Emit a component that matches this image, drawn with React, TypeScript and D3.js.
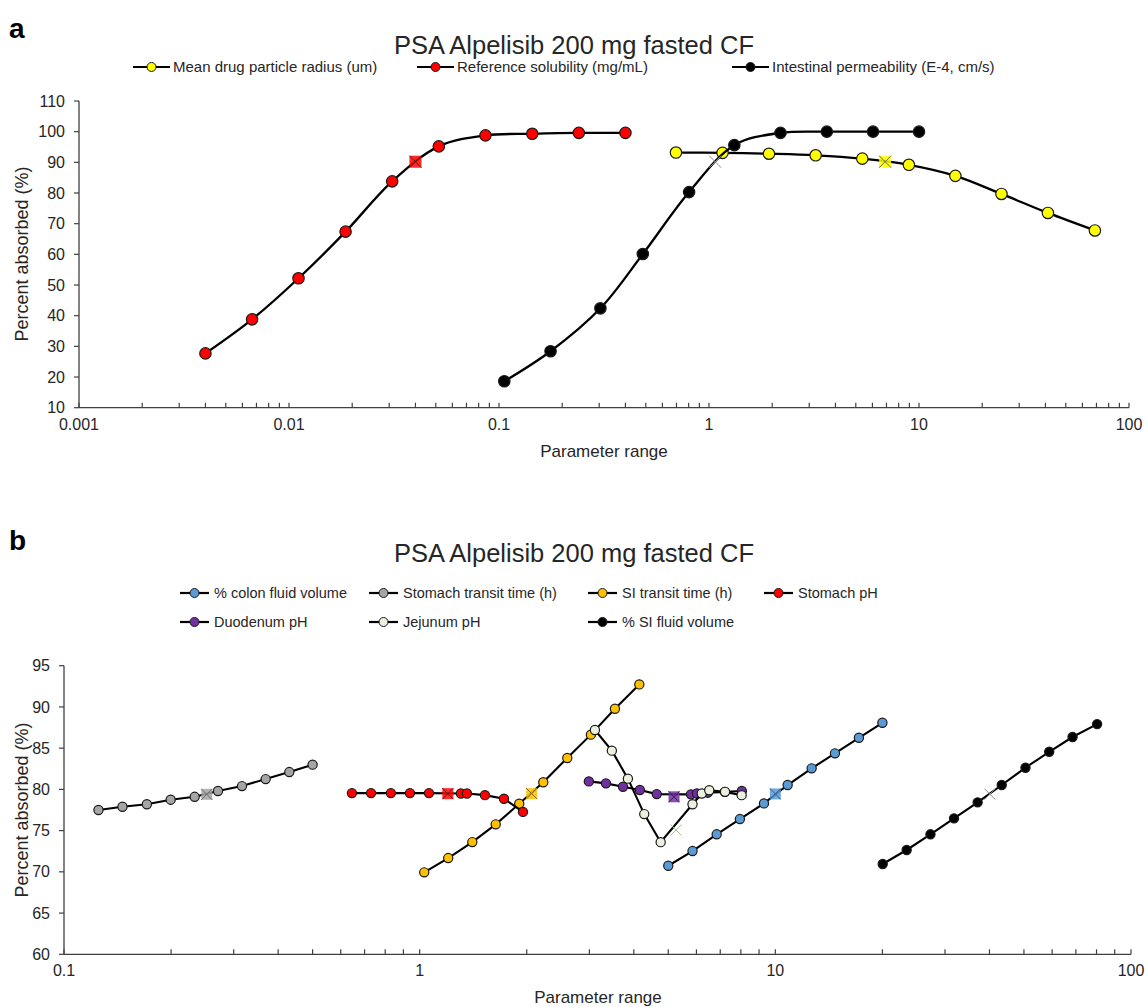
import React from 'react';
import * as d3 from 'd3';

const W = 1146;
const H = 1007;
const FONT = "'Liberation Sans', Arial, Helvetica, sans-serif";

// ---------- Panel a data ----------
const titleText = 'PSA Alpelisib 200 mg fasted CF';
const aXTicks = [0.001, 0.01, 0.1, 1, 10, 100];
const aYTicks = [10, 20, 30, 40, 50, 60, 70, 80, 90, 100, 110];

const radiusName = 'Mean drug particle radius (um)';
const radiusX = [0.696, 1.16, 1.93, 3.22, 5.37, 8.95, 14.9, 24.7, 41.1, 68.8];
const radiusY = [93.2, 93.1, 92.8, 92.3, 91.2, 89.2, 85.6, 79.7, 73.5, 67.8];
const radiusBase = [6.9, 90.2];

const solName = 'Reference solubility (mg/mL)';
const solX = [0.004, 0.00667, 0.0111, 0.0186, 0.031, 0.0517, 0.0862, 0.144, 0.24, 0.4];
const solY = [27.7, 38.8, 52.2, 67.4, 83.8, 95.2, 98.8, 99.3, 99.6, 99.6];
const solBase = [0.04, 90.2];

const permName = 'Intestinal permeability (E-4, cm/s)';
const permX = [0.106, 0.176, 0.304, 0.484, 0.804, 1.32, 2.19, 3.64, 6.04, 10];
const permY = [18.6, 28.4, 42.4, 60.1, 80.3, 95.6, 99.6, 100, 100, 100];
const permBase = [1.07, 90.2];

// ---------- Panel b data ----------
const bXTicks = [0.1, 1, 10, 100];
const bYTicks = [60, 65, 70, 75, 80, 85, 90, 95];

const colonName = '% colon fluid volume';
const colonX = [5, 5.85, 6.84, 7.95, 9.29, 10.83, 12.65, 14.71, 17.18, 20];
const colonY = [70.74, 72.52, 74.55, 76.4, 78.3, 80.53, 82.55, 84.37, 86.26, 88.08];
const colonBase = [10, 79.45];

const stTransName = 'Stomach transit time (h)';
const stTransX = [0.125, 0.146, 0.171, 0.1995, 0.233, 0.271, 0.3165, 0.369, 0.43, 0.5];
const stTransY = [77.5, 77.9, 78.2, 78.75, 79.1, 79.8, 80.4, 81.25, 82.1, 83.0];
const stTransBase = [0.252, 79.4];

const siTransName = 'SI transit time (h)';
const siTransX = [1.03, 1.203, 1.406, 1.636, 1.905, 2.226, 2.6, 3.03, 3.54, 4.145];
const siTransY = [69.94, 71.67, 73.61, 75.76, 78.26, 80.86, 83.81, 86.64, 89.78, 92.73];
const siTransBase = [2.065, 79.48];

const stPhName = 'Stomach pH';
const stPhX = [0.645, 0.73, 0.83, 0.939, 1.062, 1.306, 1.358, 1.526, 1.726, 1.952];
const stPhY = [79.55, 79.55, 79.55, 79.55, 79.55, 79.5, 79.5, 79.3, 78.87, 77.27];
const stPhBase = [1.2, 79.48];

const duoName = 'Duodenum pH';
const duoX = [2.99, 3.34, 3.73, 4.16, 4.64, 5.79, 6.02, 6.46, 7.21, 8.05];
const duoY = [80.97, 80.73, 80.32, 79.92, 79.43, 79.4, 79.5, 79.6, 79.7, 79.8];
const duoBase = [5.19, 79.1];

const jejName = 'Jejunum pH';
const jejX = [3.11, 3.47, 3.85, 4.28, 4.76, 5.85, 6.21, 6.52, 7.22, 8.04];
const jejY = [87.2, 84.7, 81.3, 77.0, 73.6, 78.2, 79.5, 79.9, 79.7, 79.3];
const jejBase = [5.26, 75.07];

const siFluidName = '% SI fluid volume';
const siFluidX = [20.04, 23.4, 27.3, 31.8, 37.05, 43.3, 50.5, 58.9, 68.5, 80.3];
const siFluidY = [70.95, 72.65, 74.55, 76.49, 78.43, 80.53, 82.63, 84.56, 86.35, 87.92];
const siFluidBase = [40.1, 79.43];

type Series = {
  name: string;
  xs: number[];
  ys: number[];
  base: number[];
  fill: string;
  baseFill: string | null;
  baseStroke: string;
};

const seriesA: Series[] = [
  { name: radiusName, xs: radiusX, ys: radiusY, base: radiusBase, fill: '#ffff00', baseFill: '#ffff00', baseStroke: '#6b6b30' },
  { name: solName, xs: solX, ys: solY, base: solBase, fill: '#ff0000', baseFill: '#ff0000', baseStroke: '#7a1010' },
  { name: permName, xs: permX, ys: permY, base: permBase, fill: '#000000', baseFill: null, baseStroke: '#8c8c8c' },
];

const seriesB: Series[] = [
  { name: colonName, xs: colonX, ys: colonY, base: colonBase, fill: '#5b9bd5', baseFill: '#5b9bd5', baseStroke: '#2f5f8f' },
  { name: stTransName, xs: stTransX, ys: stTransY, base: stTransBase, fill: '#a5a5a5', baseFill: '#a5a5a5', baseStroke: '#6e6e6e' },
  { name: siTransName, xs: siTransX, ys: siTransY, base: siTransBase, fill: '#ffc000', baseFill: '#ffc000', baseStroke: '#8a6a10' },
  { name: stPhName, xs: stPhX, ys: stPhY, base: stPhBase, fill: '#ff0000', baseFill: '#ff0000', baseStroke: '#7a1010' },
  { name: duoName, xs: duoX, ys: duoY, base: duoBase, fill: '#7030a0', baseFill: '#7030a0', baseStroke: '#3a1858' },
  { name: jejName, xs: jejX, ys: jejY, base: jejBase, fill: '#ebf1de', baseFill: null, baseStroke: '#a9c08c' },
  { name: siFluidName, xs: siFluidX, ys: siFluidY, base: siFluidBase, fill: '#000000', baseFill: null, baseStroke: '#8c8c8c' },
];

function minorTicks(domain: number[]): number[] {
  const out: number[] = [];
  const k0 = Math.round(Math.log10(domain[0]));
  const k1 = Math.round(Math.log10(domain[1]));
  for (let k = k0; k < k1; k++) {
    for (let m = 2; m <= 9; m++) out.push(m * Math.pow(10, k));
  }
  return out;
}

function BaseMarker({ x, y, s, fill, stroke }: { x: number; y: number; s: number; fill: string | null; stroke: string }) {
  const h = s / 2;
  return (
    <g>
      {fill && <rect x={x - h} y={y - h} width={s} height={s} fill={fill} fillOpacity={0.85} />}
      <line x1={x - h} y1={y - h} x2={x + h} y2={y + h} stroke={stroke} strokeWidth={1} />
      <line x1={x - h} y1={y + h} x2={x + h} y2={y - h} stroke={stroke} strokeWidth={1} />
    </g>
  );
}

type PanelProps = {
  series: Series[];
  xDomain: number[];
  yDomain: number[];
  xRange: number[];
  yRange: number[];
  xTicks: number[];
  yTicks: number[];
  smooth: boolean;
  r: number;
  lineW: number;
  baseSize: number;
};

function Panel(p: PanelProps) {
  const x = d3.scaleLog().domain(p.xDomain).range(p.xRange);
  const y = d3.scaleLinear().domain(p.yDomain).range(p.yRange);
  const line = d3
    .line<[number, number]>()
    .x((d) => x(d[0]))
    .y((d) => y(d[1]))
    .curve(p.smooth ? d3.curveCatmullRom.alpha(0.5) : d3.curveLinear);
  const x0 = p.xRange[0];
  const x1 = p.xRange[1];
  const yb = p.yRange[0];
  const yt = p.yRange[1];
  const axisColor = '#404040';
  return (
    <g>
      <line x1={x0} y1={yt} x2={x0} y2={yb} stroke={axisColor} strokeWidth={1.3} />
      <line x1={x0} y1={yb} x2={x1} y2={yb} stroke={axisColor} strokeWidth={1.3} />
      {p.yTicks.map((t) => (
        <g key={'yt' + t}>
          <line x1={x0 - 5} x2={x0} y1={y(t)} y2={y(t)} stroke={axisColor} strokeWidth={1.2} />
          <text x={x0 - 14} y={y(t)} dy="0.35em" textAnchor="end" fontSize={16} fill="#262626" fontFamily={FONT}>
            {t}
          </text>
        </g>
      ))}
      {minorTicks(p.xDomain).map((t) => (
        <line key={'xm' + t} x1={x(t)} x2={x(t)} y1={yb - 5} y2={yb} stroke={axisColor} strokeWidth={1.2} />
      ))}
      {p.xTicks.map((t) => (
        <g key={'xt' + t}>
          <line x1={x(t)} x2={x(t)} y1={yb - 5} y2={yb} stroke={axisColor} strokeWidth={1.2} />
          <text x={x(t)} y={yb + 22} textAnchor="middle" fontSize={16} fill="#262626" fontFamily={FONT}>
            {String(t)}
          </text>
        </g>
      ))}
      {p.series.map((s) => {
        const pts = s.xs.map((v, i) => [v, s.ys[i]] as [number, number]);
        return (
          <g key={s.name}>
            <path d={line(pts) || ''} fill="none" stroke="#000" strokeWidth={p.lineW} />
            {pts.map((d, i) => (
              <circle key={i} cx={x(d[0])} cy={y(d[1])} r={p.r} fill={s.fill} stroke="#1a1a1a" strokeWidth={1.2} />
            ))}
            <BaseMarker x={x(s.base[0])} y={y(s.base[1])} s={p.baseSize} fill={s.baseFill} stroke={s.baseStroke} />
          </g>
        );
      })}
    </g>
  );
}

function LegendItem({ x, y, fill, label, fs, len, gap }: { x: number; y: number; fill: string; label: string; fs: number; len: number; gap: number }) {
  return (
    <g>
      <line x1={x} x2={x + len} y1={y} y2={y} stroke="#000" strokeWidth={2.2} />
      <circle cx={x + len / 2} cy={y} r={4.5} fill={fill} stroke="#1a1a1a" strokeWidth={1} />
      <text x={x + len + gap} y={y} dy="0.35em" fontSize={fs} fill="#262626" fontFamily={FONT}>
        {label}
      </text>
    </g>
  );
}

export default function App() {
  const legendA = [
    { x: 133, y: 67 },
    { x: 417, y: 67 },
    { x: 732, y: 67 },
  ];
  const legendB = [
    { x: 180, y: 593 },
    { x: 369, y: 593 },
    { x: 588, y: 593 },
    { x: 764, y: 593 },
    { x: 180, y: 622 },
    { x: 369, y: 622 },
    { x: 588, y: 622 },
  ];
  return (
    <svg
      width={W}
      height={H}
      viewBox={`0 0 ${W} ${H}`}
      style={{ position: 'absolute', left: 0, top: 0, background: '#fff' }}
      fontFamily={FONT}
    >
      <rect x={0} y={0} width={W} height={H} fill="#fff" />
      {/* Panel a */}
      <text x={9} y={38} fontSize={28} fontWeight="bold" fill="#000">a</text>
      <text x={574} y={54} textAnchor="middle" fontSize={25.5} fill="#262626">{titleText}</text>
      {seriesA.map((s, i) => (
        <LegendItem key={s.name} x={legendA[i].x} y={legendA[i].y} fill={s.fill} label={s.name} fs={15} len={37} gap={3} />
      ))}
      <Panel
        series={seriesA}
        xDomain={[0.001, 100]}
        yDomain={[10, 110]}
        xRange={[79, 1129]}
        yRange={[407.7, 101]}
        xTicks={aXTicks}
        yTicks={aYTicks}
        smooth={true}
        r={5.7}
        lineW={2.3}
        baseSize={12}
      />
      <text x={604} y={457} textAnchor="middle" fontSize={17} fill="#262626">Parameter range</text>
      <text transform="translate(28,254) rotate(-90)" textAnchor="middle" fontSize={18} fill="#262626">
        Percent absorbed (%)
      </text>

      {/* Panel b */}
      <text x={9} y={550} fontSize={28} fontWeight="bold" fill="#000">b</text>
      <text x={574} y={562} textAnchor="middle" fontSize={25.5} fill="#262626">{titleText}</text>
      {seriesB.map((s, i) => (
        <LegendItem key={s.name} x={legendB[i].x} y={legendB[i].y} fill={s.fill} label={s.name} fs={14.5} len={29} gap={5} />
      ))}
      <Panel
        series={seriesB}
        xDomain={[0.1, 100]}
        yDomain={[60, 95]}
        xRange={[64, 1131]}
        yRange={[954.3, 665.7]}
        xTicks={bXTicks}
        yTicks={bYTicks}
        smooth={false}
        r={4.6}
        lineW={2.1}
        baseSize={11}
      />
      <text x={598} y={1003} textAnchor="middle" fontSize={17} fill="#262626">Parameter range</text>
      <text transform="translate(28,810) rotate(-90)" textAnchor="middle" fontSize={18} fill="#262626">
        Percent absorbed (%)
      </text>
    </svg>
  );
}
